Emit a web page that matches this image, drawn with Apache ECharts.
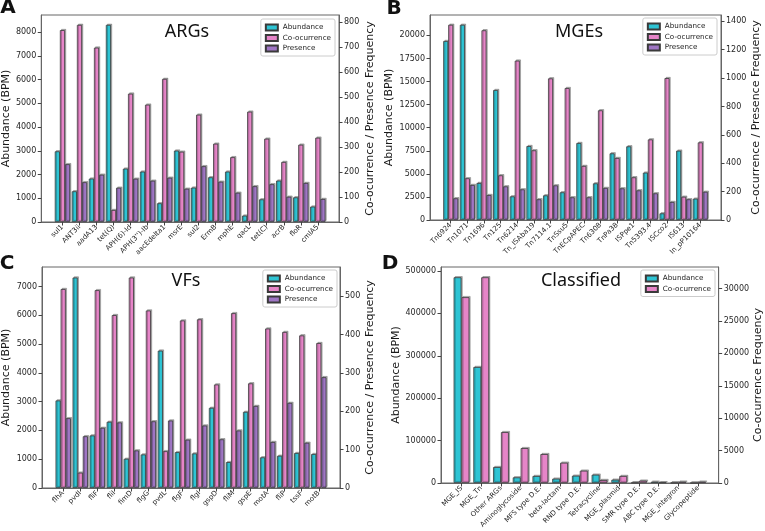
<!DOCTYPE html>
<html>
<head>
<meta charset="utf-8">
<script src="https://cdn.jsdelivr.net/npm/echarts@6/dist/echarts.min.js"></script>
<style>
html, body { margin: 0; padding: 0; background: #fff; }
#main { width: 765px; height: 531px; }
</style>
</head>
<body>
<div id="main"></div>
<script>
// A - ARGs
var argNames = ['sul1', 'ANT3ii', 'aadA13', 'tet(Q)', 'APH(6)-Id', "APH(3'')-Ib", 'aacEdelta1', 'msrE', 'sul2', 'ErmB', 'mphE', 'qacL', 'tet(C)', 'acrB', 'floR', 'cmlA5'];
var argAbund = [2980, 1295, 1830, 8310, 2250, 2125, 790, 3010, 1450, 1885, 2125, 270, 955, 1745, 1040, 650];
var argCooc = [767, 788, 697, 48, 513, 469, 572, 281, 429, 313, 259, 441, 333, 240, 309, 337];
var argPres = [231, 159, 189, 137, 173, 165, 177, 133, 223, 161, 117, 143, 151, 101, 156, 92];

// B - MGEs
var mgeNames = ['Tn6924', 'Tn1071', 'Tn1696', 'Tn125', 'Tn6214', 'Tn_ISAba19', 'Tn7114.1', 'TnSsu5', 'TnECpAPEC', 'Tn6308', 'TnPa38', 'ISPpe1', 'Tn5393.4', 'ISCco2', 'IS613', 'In_pP10164'];
var mgeAbund = [19390, 21150, 4010, 14080, 2560, 8010, 2670, 3000, 8340, 3970, 7220, 7980, 5130, 720, 7510, 2310];
var mgeCooc = [1376, 294, 1337, 315, 1123, 491, 998, 930, 381, 773, 437, 301, 568, 1000, 164, 547];
var mgePres = [153, 247, 176, 237, 216, 146, 244, 160, 160, 226, 223, 209, 188, 127, 146, 199];

// C - VFs
var vfNames = ['flhA', 'pvdI', 'fliF', 'fliI', 'fimD', 'flgG', 'pvdL', 'flgF', 'flgI', 'gspD', 'fliM', 'gspE', 'motA', 'fliP', 'tssF', 'motB'];
var vfAbund = [3040, 7310, 1825, 2300, 1015, 1165, 4770, 1245, 1200, 2785, 900, 2645, 1065, 1120, 1215, 1180];
var vfCooc = [519, 40, 516, 451, 549, 463, 96, 437, 440, 270, 456, 273, 416, 407, 398, 378];
var vfPres = [182, 135, 157, 171, 98, 174, 176, 126, 163, 127, 150, 214, 120, 222, 118, 289];

// D - Classified
var clsNames = ['MGE_IS', 'MGE_Tn', 'Other ARGs', 'Aminoglycoside', 'MFS type D.E.', 'beta-lactam', 'RND type D.E.', 'Tetracycline', 'MGE_plasmid', 'SMR type D.E.', 'ABC type D.E.', 'MGE_integron', 'Glycopeptide'];
var clsAbund = [485000, 273500, 37600, 13300, 16500, 10200, 17200, 19600, 7800, 1000, 3000, 800, 300];
var clsCooc = [28670, 31740, 7850, 5380, 4460, 3130, 1900, 460, 1080, 360, 100, 200, 200];

var seriesNames = ['Abundance', 'Co-ocurrence', 'Presence'];
var colors = ['#2ec4d4', '#e685c8', '#9f76c4'];
var font = 'DejaVu Sans';

var grids = [], xAxes = [], yAxes = [], series = [], legends = [];

// matplotlib-like autoscale: 5% headroom
function headroom(arrs) {
    var m = 0;
    arrs.forEach(function (a) { m = Math.max(m, Math.max.apply(null, a)); });
    return m * 1.05;
}

function addPanel(p, box, names, abund, others, leftStep, rightStep, rightTitle, gaps, leg) {
    var n = names.length;
    var nb = others.length + 1;
    var w = nb == 3 ? 0.3 : 0.4;
    var half = nb * w / 2;
    var pad = 0.05 * (n - 1 + 2 * half);
    var idx = names.map(function (d, i) { return i; });

    grids.push({left: box[0], top: box[1], width: box[2], height: box[3],
        show: true, borderColor: '#666', borderWidth: 1});

    xAxes.push({
        type: 'value', gridIndex: p,
        min: -half - pad, max: n - 1 + half + pad,
        splitLine: {show: false},
        axisLine: {show: true, onZero: false, lineStyle: {color: '#666', width: 1}},
        axisTick: {show: true, customValues: idx, length: 3.5, lineStyle: {color: '#444'}},
        axisLabel: {
            customValues: idx, rotate: 45, fontSize: 7, margin: 4,
            fontFamily: font, color: '#262626',
            formatter: function (v) { return names[Math.round(v)]; }
        }
    });

    var yBase = {
        type: 'value', gridIndex: p, min: 0,
        nameLocation: 'middle',
        nameTextStyle: {fontSize: 11, fontFamily: font, color: '#1a1a1a'},
        splitLine: {show: false},
        axisLine: {show: true, onZero: false, lineStyle: {color: '#666', width: 1}},
        axisTick: {show: true, length: 3.5, lineStyle: {color: '#444'}},
        axisLabel: {fontSize: 8, fontFamily: font, color: '#262626', margin: 5, showMaxLabel: false,
            formatter: function (v) { return String(v); }}
    };
    yAxes.push(Object.assign({}, yBase, {
        position: 'left', max: headroom([abund]), interval: leftStep,
        name: 'Abundance (BPM)', nameGap: gaps[0]
    }));
    yAxes.push(Object.assign({}, yBase, {
        position: 'right', max: headroom(others), interval: rightStep,
        name: rightTitle, nameGap: gaps[1], nameRotate: 90
    }));

    [abund].concat(others).forEach(function (arr, k) {
        series.push({
            type: 'bar',
            name: seriesNames[k],
            xAxisIndex: p,
            yAxisIndex: k == 0 ? 2 * p : 2 * p + 1,
            barWidth: (w * 100) + '%',
            barGap: '0%',
            data: arr.map(function (v, i) { return [i, v]; }),
            itemStyle: {
                color: colors[k],
                borderColor: '#3a3a3a',
                borderWidth: 0.8,
                shadowColor: 'rgba(0,0,0,0.3)',
                shadowOffsetX: 1.2,
                shadowOffsetY: -1.2
            },
            emphasis: {disabled: true}
        });
    });

    legends.push({
        orient: 'vertical', right: leg[0], top: leg[1],
        data: seriesNames.slice(0, nb),
        icon: 'rect', selectedMode: false,
        itemWidth: 12, itemHeight: 6, itemGap: 1.5,
        padding: [4, 4, 3, 4],
        backgroundColor: '#fff', borderColor: '#ccc', borderWidth: 1, borderRadius: 2,
        textStyle: {fontSize: 7.2, fontFamily: font, color: '#222', lineHeight: 9}
    });
}

addPanel(0, [38, 15, 301, 207], argNames, argAbund, [argCooc, argPres], 1000, 100,
    'Co-ocurrence / Presence Frequency', [28, 26], [430, 19]);
addPanel(1, [430, 15, 291, 205], mgeNames, mgeAbund, [mgeCooc, mgePres], 2500, 200,
    'Co-ocurrence / Presence Frequency', [35, 27], [48, 18]);
addPanel(2, [39, 267, 301, 221], vfNames, vfAbund, [vfCooc, vfPres], 1000, 100,
    'Co-ocurrence / Presence Frequency', [30, 24], [428, 270]);
addPanel(3, [441, 267, 280, 216], clsNames, clsAbund, [clsCooc], 100000, 5000,
    'Co-ocurrence Frequency', [38, 34], [50, 270]);

function txt(x, y, s, size, weight, fam) {
    return {type: 'text', x: x, y: y, z: 10,
        style: {text: s, fontSize: size, fontWeight: weight, fontFamily: fam,
            fill: '#111', align: 'center', verticalAlign: 'middle'}};
}

var chart = echarts.init(document.getElementById('main'));
chart.setOption({
    animation: false,
    grid: grids,
    xAxis: xAxes,
    yAxis: yAxes,
    series: series,
    legend: legends,
    graphic: [
        txt(8, 8, 'A', 20, 'bold', font),
        txt(394, 8.5, 'B', 20, 'bold', font),
        txt(7, 263.5, 'C', 20, 'bold', font),
        txt(390, 263.5, 'D', 20, 'bold', font),
        txt(187, 32, 'ARGs', 18, 'normal', 'Noto Sans'),
        txt(579, 32, 'MGEs', 18, 'normal', 'Noto Sans'),
        txt(186, 281, 'VFs', 18, 'normal', 'Noto Sans'),
        txt(581, 281, 'Classified', 18, 'normal', 'Noto Sans')
    ]
});
</script>
</body>
</html>
